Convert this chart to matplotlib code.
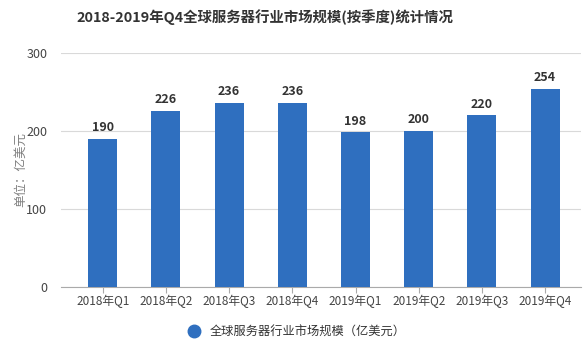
import numpy as np
import matplotlib.pyplot as plt
from matplotlib.lines import Line2D

plt.rcParams['font.family'] = ['Noto Sans CJK SC', 'DejaVu Sans']

quarters = ['2018年Q1', '2018年Q2', '2018年Q3', '2018年Q4',
            '2019年Q1', '2019年Q2', '2019年Q3', '2019年Q4']
market_size = [190, 226, 236, 236, 198, 200, 220, 254]
y_ticks = [0, 100, 200, 300]

bar_color = '#2F6FBF'

fig = plt.figure(figsize=(5.87, 3.5), dpi=100)
ax = fig.add_axes([0.104, 0.181, 0.886, 0.668])

x = np.arange(len(quarters))
ax.bar(x, market_size, width=0.46, color=bar_color, zorder=3)

for xi, v in zip(x, market_size):
    ax.text(xi, v + 6, str(v), ha='center', va='bottom', fontsize=9,
            fontweight='bold', color='#333333')

ax.set_xlim(-0.66, 7.57)
ax.set_ylim(0, 300)
ax.set_yticks(y_ticks)
ax.set_xticks(x)
ax.set_xticklabels(quarters)
ax.tick_params(axis='x', labelsize=8.5, colors='#444444', length=4,
               color='#aaaaaa', pad=2)
ax.tick_params(axis='y', labelsize=9, colors='#444444', length=0, pad=10)
ax.grid(axis='y', color='#d9d9d9', linewidth=0.8, zorder=0)

for side in ['top', 'right', 'left']:
    ax.spines[side].set_visible(False)
ax.spines['bottom'].set_color('#aaaaaa')

ax.set_ylabel('单位：亿美元', fontsize=9, color='#808080')
ax.yaxis.set_label_coords(-0.066, 0.5)

fig.text(0.451, 0.951, '2018-2019年Q4全球服务器行业市场规模(按季度)统计情况',
         ha='center', va='center', fontsize=10.4, fontweight='bold',
         color='#333333')

handle = Line2D([], [], marker='o', linestyle='none', markersize=9,
                markerfacecolor=bar_color, markeredgecolor=bar_color)
fig.legend([handle], ['全球服务器行业市场规模（亿美元）'], loc='center',
           bbox_to_anchor=(0.5, 0.051), frameon=False, fontsize=8.8,
           handletextpad=0.3, labelcolor='#333333')

fig.savefig('out.png', dpi=100)
